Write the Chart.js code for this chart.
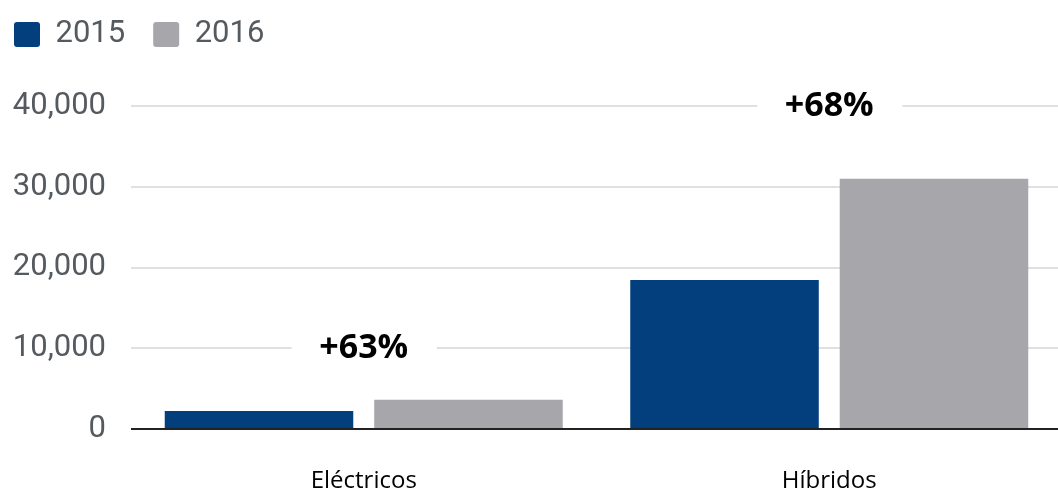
<!DOCTYPE html>
<html>
<head>
<meta charset="utf-8">
<script src="https://cdn.jsdelivr.net/npm/chart.js@4"></script>
<style>
    html, body { margin: 0; padding: 0; background: #fff; overflow: hidden; }
    .wrap { width: 1062px; height: 493px; }
</style>
</head>
<body>
<div class="wrap"><canvas id="chart"></canvas></div>
<script>
const categories = ['Eléctricos', 'Híbridos'];
const seriesNames = ['2015', '2016'];
const values2015 = [2230, 18450];
const values2016 = [3630, 31000];
const changeLabels = ['+63%', '+68%'];
const changeLevels = [10000, 40000];
const yTicks = [0, 10000, 20000, 30000, 40000];

const palette = {
    blue: '#033f7c',
    gray: '#a7a6aa',
    axis: '#555a5f',
    grid: '#e0e0e0',
    zero: '#222222',
};

// taller legend block so the plot starts lower
const legendSpacer = {
    id: 'legendSpacer',
    beforeInit(chart) {
        const fit = chart.legend.fit;
        chart.legend.fit = function () {
            fit.call(this);
            this.height += 46;
        };
    },
};

// growth labels sitting on a gridline with a white gap behind them
const changeNotes = {
    id: 'changeNotes',
    beforeDatasetsDraw(chart) {
        const { ctx, scales } = chart;
        ctx.save();
        ctx.font = 'bold 34px "Open Sans"';
        ctx.textAlign = 'center';
        ctx.textBaseline = 'middle';
        changeLabels.forEach((label, i) => {
            const x = scales.x.getPixelForValue(i);
            const y = scales.y.getPixelForValue(changeLevels[i]);
            ctx.fillStyle = '#fff';
            ctx.fillRect(x - 72, y - 18, 145, 36);
            ctx.fillStyle = '#000';
            ctx.fillText(label, x, y);
        });
        ctx.restore();
    },
};

new Chart(document.getElementById('chart'), {
    type: 'bar',
    data: {
        labels: categories,
        datasets: [
            { label: seriesNames[0], data: values2015, backgroundColor: palette.blue },
            { label: seriesNames[1], data: values2016, backgroundColor: palette.gray },
        ],
    },
    options: {
        responsive: true,
        maintainAspectRatio: false,
        animation: false,
        layout: { padding: { left: -14, right: 0, top: -9, bottom: 0 } },
        datasets: { bar: { categoryPercentage: 0.9, barPercentage: 0.9 } },
        plugins: {
            tooltip: { enabled: false },
            legend: {
                position: 'top',
                align: 'start',
                labels: {
                    boxWidth: 26,
                    boxHeight: 25,
                    useBorderRadius: true,
                    borderRadius: 3,
                    padding: 28,
                    color: palette.axis,
                    font: { family: 'Roboto', size: 31 },
                },
            },
        },
        scales: {
            x: {
                afterFit: (scale) => { scale.height = 64; },
                grid: { display: false },
                border: { display: false },
                ticks: {
                    color: '#000',
                    padding: 30,
                    font: { family: 'Open Sans', size: 24 },
                },
            },
            y: {
                min: 0,
                max: 40000,
                afterFit: (scale) => { scale.width = 145; },
                afterBuildTicks: (scale) => {
                    scale.ticks = yTicks.map((value) => ({ value }));
                },
                border: { display: false },
                grid: {
                    drawTicks: false,
                    color: (c) => c.tick && c.tick.value === 0 ? palette.zero : palette.grid,
                    lineWidth: 2,
                },
                ticks: {
                    color: palette.axis,
                    padding: 25,
                    font: { family: 'Roboto', size: 31 },
                    callback: (value) => value.toLocaleString('en-US'),
                },
            },
        },
    },
    plugins: [legendSpacer, changeNotes],
});
</script>
</body>
</html>
